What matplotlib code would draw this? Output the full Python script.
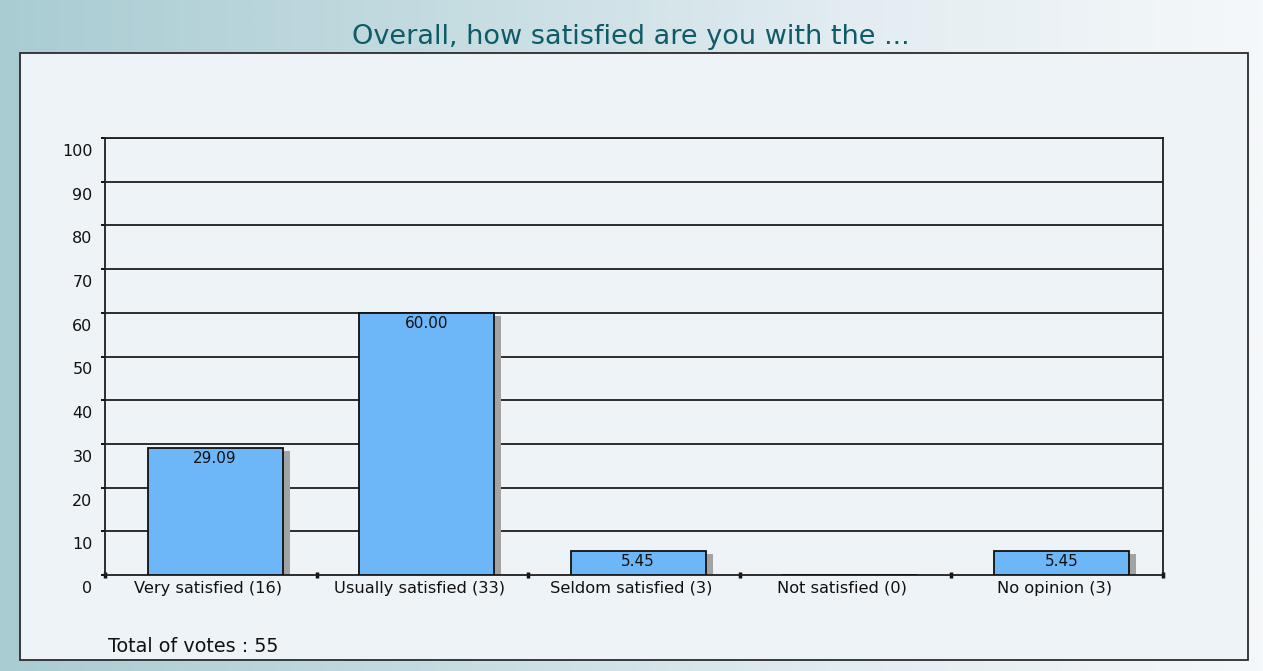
import numpy as np
import matplotlib
matplotlib.use("Agg")
import matplotlib.pyplot as plt
from matplotlib.colors import LinearSegmentedColormap
from matplotlib.patches import Rectangle
from matplotlib.transforms import ScaledTranslation

categories = ["Very satisfied (16)", "Usually satisfied (33)", "Seldom satisfied (3)",
              "Not satisfied (0)", "No opinion (3)"]
values = [29.09, 60.00, 5.45, 0.0, 5.45]
value_labels = ["29.09", "60.00", "5.45", "", "5.45"]
yticks = [0, 10, 20, 30, 40, 50, 60, 70, 80, 90, 100]
title = "Overall, how satisfied are you with the ..."
total_text = "Total of votes : 55"

W, H = 1263, 671
DPI = 100
fig = plt.figure(figsize=(W / DPI, H / DPI), dpi=DPI)
plt.rcParams['font.family'] = ['DejaVu Sans']

# background gradient
bg = fig.add_axes([0, 0, 1, 1], zorder=-10)
cmap = LinearSegmentedColormap.from_list("bg", ["#a9ccd3", "#c3dbe0", "#e2ecf1", "#f5f8fa"])
grad = np.linspace(0, 1, 512).reshape(1, -1)
bg.imshow(grad, aspect="auto", cmap=cmap, extent=[0, 1, 0, 1])
bg.set_xlim(0, 1); bg.set_ylim(0, 1)
bg.axis("off")

def fx(px):
    return px / W

def fy(py):
    return 1 - py / H

# inner panel
panel = Rectangle((fx(20), fy(660)), fx(1248) - fx(20), fy(53) - fy(660),
                  transform=fig.transFigure, facecolor="#eef3f7", edgecolor="#2b2b2b",
                  linewidth=1.3, zorder=-5)
fig.patches.append(panel)

fig.text(fx(631), fy(37), title, ha="center", va="center", fontsize=19.5,
         color="#0f5c68")
fig.text(fx(108), fy(647), total_text, ha="left", va="center", fontsize=13.8,
         color="#111111")

# plot area
L, T, R, B = 105, 138, 1163, 575
ax = fig.add_axes([fx(L), fy(B), fx(R) - fx(L), fy(T) - fy(B)])
ax.set_facecolor("none")
n = len(categories)
ax.set_xlim(-0.5, n - 0.5)
ax.set_ylim(0, 100)

x = np.arange(n)
bar_w = 0.638
shift = 0.02
px_per_x = (R - L) / n
px_per_y = (B - T) / 100.0
sh_w = 7 / px_per_x
sh_drop = 3 / px_per_y

for v in yticks[1:]:
    ax.axhline(v, color="#1e1e1e", linewidth=1.3, zorder=1)

for xi, v in zip(x, values):
    if v <= 0:
        continue
    left = xi + shift - bar_w / 2
    ax.add_patch(Rectangle((left + bar_w, 0), sh_w, max(v - sh_drop, 0),
                           facecolor="#a3a3a3", edgecolor="none", zorder=2))
ax.bar(x + shift, values, width=bar_w, color="#6db6f8", edgecolor="#111111",
       linewidth=1.3, zorder=3)

for xi, v, lab in zip(x, values, value_labels):
    if lab:
        ax.annotate(lab, (xi + shift, v), xytext=(0, -3), textcoords="offset pixels",
                    ha="center", va="top", fontsize=11, color="#111111", zorder=4)

for s in ["top", "right", "left", "bottom"]:
    ax.spines[s].set_color("#1e1e1e")
    ax.spines[s].set_linewidth(1.3)

ax.set_yticks(yticks)
ax.set_yticklabels([str(v) for v in yticks], fontsize=11.5, color="#111111")
ax.tick_params(axis="y", length=3, width=1.3, pad=6)
off = ScaledTranslation(0, -12 / DPI, fig.dpi_scale_trans)
for lab in ax.get_yticklabels():
    lab.set_transform(lab.get_transform() + off)

ax.set_xticks(x - 0.015)
ax.set_xticklabels(categories, fontsize=11.7, color="#111111")
ax.tick_params(axis="x", length=0, pad=4)
ax.set_xticks(np.arange(n + 1) - 0.5, minor=True)
ax.tick_params(axis="x", which="minor", length=4, width=2.5, direction="inout",
               color="#111111")

fig.savefig("out.png", dpi=DPI)
